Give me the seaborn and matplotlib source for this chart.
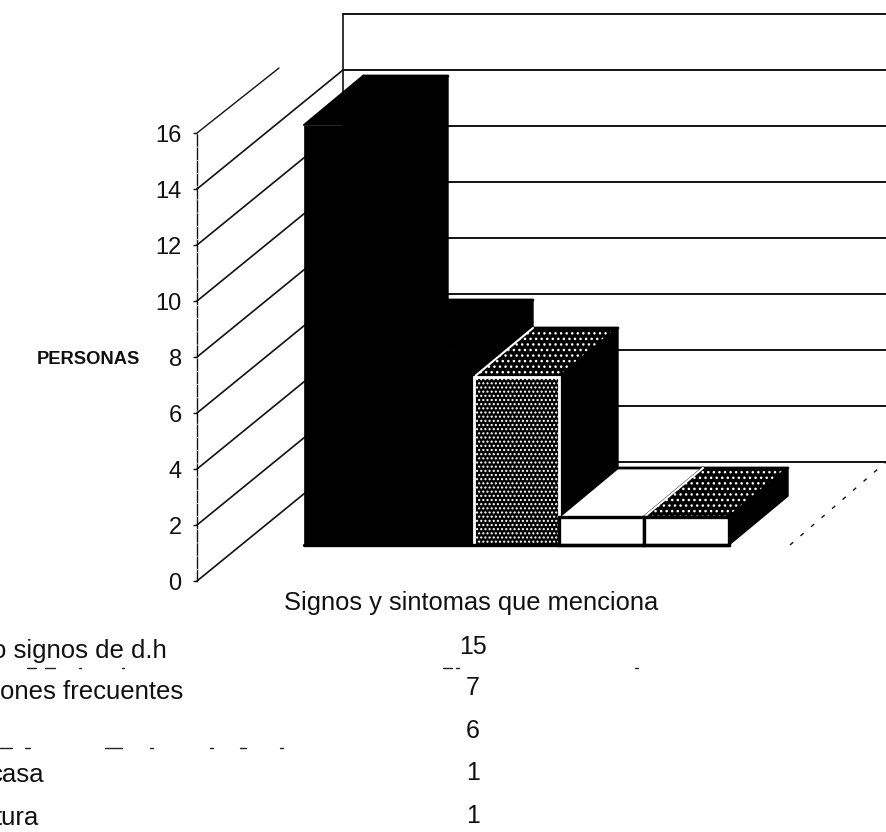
import matplotlib
matplotlib.use('Agg')
import matplotlib.pyplot as plt
from matplotlib.lines import Line2D
import seaborn as sns

# Data
row_labels = ['o signos de d.h', 'ones frecuentes', '', 'casa', 'tura']
row_values = [15, 7, 6, 1, 1]
y_ticks = [0, 2, 4, 6, 8, 10, 12, 14, 16]
y_title = 'PERSONAS'
x_title = 'Signos y sintomas que menciona'

W, H = 886, 832

sns.set_theme(style='white')
plt.rcParams['font.family'] = ['Liberation Sans', 'DejaVu Sans']
plt.rcParams['hatch.linewidth'] = 1.0

fig = plt.figure(figsize=(W / 100, H / 100), dpi=100)
fig.patch.set_facecolor('white')


def px_axes(left, right, top, bottom, **kw):
    return fig.add_axes([left / W, 1 - bottom / H, (right - left) / W, (bottom - top) / H], **kw)


# Walls: y scale on the front axis, x in pixels to the right edge
wall = px_axes(197, 886, 133, 581, zorder=1)
wall.set_xlim(0, 689)
wall.set_ylim(0, 16)
wall.patch.set_alpha(0)
sns.despine(ax=wall, left=False, bottom=True, right=True, top=True)
wall.spines['left'].set_linewidth(1.0)
wall.spines['left'].set_linestyle((0, (8, 1.5)))
wall.spines['left'].set_color('#111111')
wall.set_xticks([])
wall.set_yticks(y_ticks)
wall.tick_params(axis='y', left=True, length=3, width=1, pad=8, labelsize=17, colors='#111111')

back_dx, back_dy = 146, 119 / 28
for v in y_ticks:
    if v == 16:
        wall.plot([0, 82], [v, v + 65 / 28], color='#111111', lw=1, clip_on=False)
    else:
        wall.plot([0, back_dx], [v, v + back_dy], color='#111111', lw=1.2, clip_on=False)
    wall.plot([back_dx, 689], [v + back_dy, v + back_dy], color='#111111', lw=1.4, clip_on=False)
wall.plot([back_dx, back_dx], [back_dy, 16 + back_dy], color='#111111', lw=1.2, clip_on=False)
wall.plot([593, 689], [36 / 28, back_dy], color='#111111', lw=1, ls=(0, (3, 7)), clip_on=False)

# Bars: one category per 85 px, zero on the front floor line
ax = px_axes(304, 729, 125, 545, zorder=2)
sns.barplot(x=list(range(len(row_values))), y=row_values, width=1.0, color='black',
            saturation=1, ax=ax)
ax.set_xlim(-0.5, len(row_values) - 0.5)
ax.set_ylim(0, 15)
ax.axis('off')
bars = list(ax.patches)

depth_x, depth_y = 59 / 85, 49 / 28
top_styles = [('black', None), ('black', None), ('black', '...'), ('white', None), ('black', '...')]
for i, v in enumerate(row_values):
    x0, x1 = i - 0.5, i + 0.5
    ax.fill([x1, x1 + depth_x, x1 + depth_x, x1], [0, depth_y, v + depth_y, v],
            color='black', lw=1, clip_on=False, zorder=1)
    face, hatch = top_styles[i]
    ax.fill([x0, x0 + depth_x, x1 + depth_x, x1], [v, v + depth_y, v + depth_y, v],
            facecolor=face, edgecolor='white' if hatch else 'black', hatch=hatch, lw=0,
            clip_on=False, zorder=2)
    ax.plot([x0 + depth_x, x1 + depth_x, x1], [v + depth_y, v + depth_y, v], color='black',
            lw=2, clip_on=False, zorder=2)
    ax.plot([x0, x0 + depth_x], [v, v + depth_y], color='white' if hatch else 'black',
            lw=1.5, clip_on=False, zorder=2)

for i, bar in enumerate(bars):
    bar.set_zorder(3)
    bar.set_clip_on(False)
    if i < 2:
        bar.set_edgecolor('black')
        bar.set_linewidth(0.5)
    elif i == 2:
        bar.set_facecolor('black')
        bar.set_edgecolor('white')
        bar.set_hatch('....')
        bar.set_linewidth(2)
    else:
        bar.set_facecolor('white')
        bar.set_edgecolor('black')
        bar.set_linewidth(2.4)

ax.plot([-0.5, 4.5], [0, 0], color='black', lw=2.4, clip_on=False, zorder=4)

# Titles and the table under the chart
fig.text(37 / W, 1 - 360 / H, y_title, fontsize=13.2, fontweight='bold', color='#111111', va='center')
fig.text(471 / W, 1 - 603 / H, x_title, fontsize=18.4, color='#111111', ha='center', va='center')

label_right = [167, 183, 0, 44, 39]
label_y = [651, 692, 0, 775, 818]
value_y = [647, 688, 731, 773, 816]
for label, right, y in zip(row_labels, label_right, label_y):
    fig.text(right / W, 1 - y / H, label, fontsize=18.5, color='#111111', ha='right', va='center')
for value, y in zip(row_values, value_y):
    fig.text(473 / W, 1 - y / H, str(value), fontsize=18, color='#111111', ha='center', va='center')

# Scan marks between the table rows
for y, spans in [(668, [(27, 36), (45, 55), (79, 81), (122, 124), (443, 452), (456, 459), (635, 638)]),
                 (748, [(0, 12), (25, 30), (105, 122), (150, 153), (210, 213), (240, 246), (280, 283)])]:
    for a, b in spans:
        fig.add_artist(Line2D([a / W, b / W], [1 - y / H, 1 - y / H], color='#222222', lw=1))

fig.savefig('out.png', dpi=100)
